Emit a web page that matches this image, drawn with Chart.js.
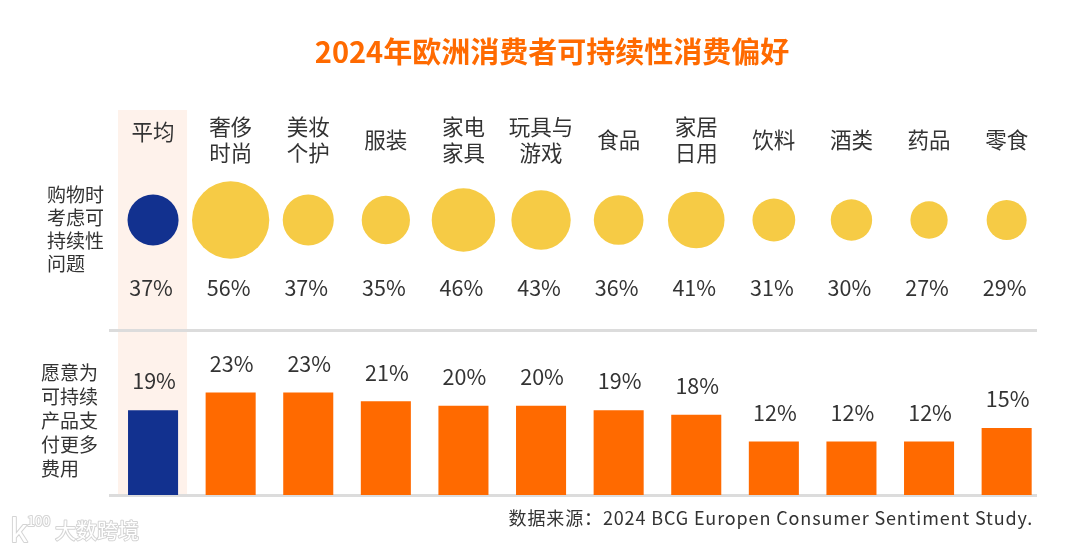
<!DOCTYPE html>
<html>
<head>
<meta charset="utf-8">
<script src="https://cdn.jsdelivr.net/npm/chart.js@4"></script>
<style>
  html, body { margin: 0; padding: 0; background: #fff; }
  #wrap { width: 1080px; height: 550px; }
</style>
</head>
<body>
<div id="wrap"><canvas id="myChart" width="1080" height="550"></canvas></div>
<script>
// data
const categories = [["平均"], ["奢侈", "时尚"], ["美妆", "个护"], ["服装"], ["家电", "家具"], ["玩具与", "游戏"],
                    ["食品"], ["家居", "日用"], ["饮料"], ["酒类"], ["药品"], ["零食"]];
const consider_share = [37, 56, 37, 35, 46, 43, 36, 41, 31, 30, 27, 29];
const pay_share = [19, 23, 23, 21, 20, 20, 19, 18, 12, 12, 12, 15];
const consider_title = ["购物时", "考虑可", "持续性", "问题"];
const pay_title = ["愿意为", "可持续", "产品支", "付更多", "费用"];
const title_text = "2024年欧洲消费者可持续性消费偏好";
const source_text = "数据来源：2024 BCG Europen Consumer Sentiment Study.";
const watermark_text = "大数跨境";

const NAVY = "#12318f", ORANGE = "#ff6a00", YELLOW = "#f6cb45", BAND = "#fef2eb", RULE = "#dcdcdc", INK = "#333333";
const CJK = '"Noto Sans CJK SC", "Noto Sans", sans-serif';

// bubbles sit on one row of the upper axis, radius follows the share
const BUBBLE_ROW = 2, PCT_ROW = 0.76, RADIUS_PER_PCT = 0.69;

function outlined(c, text, x, y) {
    c.strokeText(text, x, y);
    c.fillText(text, x, y);
}

const extras = {
    id: "extras",
    beforeDraw(chart) {
        const c = chart.ctx, x = chart.scales.x, bar = chart.scales.yBar;
        const cx = x.getPixelForValue(0);
        c.save();
        c.fillStyle = BAND;
        c.fillRect(cx - 35, 110, 69, bar.bottom - 110);
        c.fillStyle = RULE;
        c.fillRect(109, bar.top - 1, 928, 3);
        c.fillRect(109, bar.bottom - 1, 928, 3);
        c.restore();
    },
    afterDraw(chart) {
        const c = chart.ctx, x = chart.scales.x, bub = chart.scales.yBub, bar = chart.scales.yBar;
        c.save();
        c.textBaseline = "middle";

        c.textAlign = "center";
        c.fillStyle = ORANGE;
        c.font = "bold 29px " + CJK;
        c.fillText(title_text, 552, 52);

        c.fillStyle = INK;
        c.font = "21.5px " + CJK;
        consider_share.forEach((v, i) => c.fillText(v + "%", x.getPixelForValue(i) - 2, bub.getPixelForValue(PCT_ROW)));
        pay_share.forEach((v, i) => c.fillText(v + "%", x.getPixelForValue(i) + 1, bar.getPixelForValue(v) - 29));

        c.textAlign = "left";
        c.font = "19px " + CJK;
        consider_title.forEach((t, i) => c.fillText(t, 47, 195 + i * 23));
        pay_title.forEach((t, i) => c.fillText(t, 41, 373 + i * 24));

        c.textAlign = "right";
        c.letterSpacing = "0.87px";
        c.font = "18px " + CJK;
        c.fillText(source_text, 1033, 518);
        c.letterSpacing = "0px";

        // watermark
        c.textAlign = "left";
        c.strokeStyle = "#d4d4d4";
        c.lineWidth = 2;
        c.lineJoin = "round";
        c.fillStyle = "#ffffff";
        c.font = "21px " + CJK;
        outlined(c, watermark_text, 55, 530);
        c.font = "14px " + CJK;
        outlined(c, "100", 27, 521);
        c.font = "32px " + CJK;
        outlined(c, "k", 10, 530);
        c.restore();
    }
};

const myChart = new Chart(document.getElementById("myChart"), {
    data: {
        labels: categories,
        datasets: [{
            type: "bubble",
            yAxisID: "yBub",
            data: consider_share.map((v, i) => ({ x: i, y: BUBBLE_ROW, r: v * RADIUS_PER_PCT })),
            backgroundColor: consider_share.map((v, i) => i === 0 ? NAVY : YELLOW),
            borderWidth: 0,
            hoverBorderWidth: 0
        }, {
            type: "bar",
            yAxisID: "yBar",
            data: pay_share,
            backgroundColor: pay_share.map((v, i) => i === 0 ? NAVY : ORANGE),
            barPercentage: 1,
            categoryPercentage: 0.645
        }]
    },
    plugins: [extras],
    options: {
        responsive: false,
        animation: false,
        layout: { autoPadding: false, padding: { left: 114.25, right: 34.55, top: 100, bottom: 55 } },
        plugins: { legend: { display: false }, tooltip: { enabled: false } },
        scales: {
            x: {
                type: "category",
                position: "top",
                offset: true,
                grid: { display: false, drawTicks: false },
                border: { display: false },
                afterFit(s) { s.height = 65; },
                ticks: {
                    maxRotation: 0,
                    autoSkip: false,
                    padding: 12,
                    crossAlign: "center",
                    color: INK,
                    // first label sits a little above the single-line row
                    font: ctx => ({ family: CJK, size: 21.5, lineHeight: ctx.index === 0 ? 10 / 21.5 : 26 / 21.5 })
                }
            },
            yBar: {
                stack: "rows", stackWeight: 1, position: "left",
                min: 0, max: 37,
                afterFit(s) { s.width = 0; },
                grid: { display: false }, border: { display: false }, ticks: { display: false }
            },
            yBub: {
                stack: "rows", stackWeight: 1, position: "left",
                min: 0, max: 3,
                afterFit(s) { s.width = 0; },
                grid: { display: false }, border: { display: false }, ticks: { display: false }
            }
        }
    }
});
</script>
</body>
</html>
